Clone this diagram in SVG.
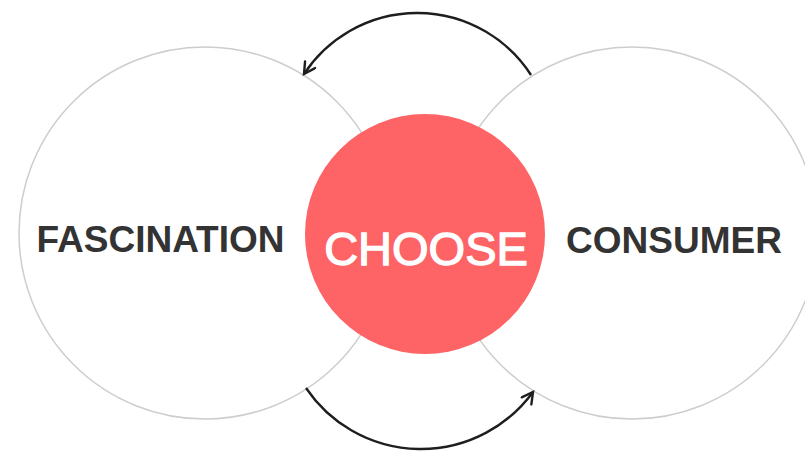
<svg xmlns="http://www.w3.org/2000/svg" width="805" height="451" viewBox="0 0 805 451">
  <style>
    .ring { fill: #ffffff; stroke: #cdcdcd; stroke-width: 1.5; }
    .core { fill: #fe6366; stroke: none; }
    .label { font-family: "Liberation Sans", Arial, Helvetica, sans-serif; font-weight: 700; font-size: 37px; fill: #333333; text-anchor: middle; }
    .center-label { font-family: "Liberation Sans", Arial, Helvetica, sans-serif; font-weight: 400; font-size: 47px; fill: #ffffff; stroke: #ffffff; stroke-width: 1.3; text-anchor: middle; }
    .conn { fill: none; stroke: #1e1e1e; stroke-width: 2.4; marker-end: url(#arrow); }
  </style>
  <defs>
    <marker id="arrow" markerWidth="16" markerHeight="16" refX="13" refY="7" orient="auto" markerUnits="userSpaceOnUse">
      <path d="M2,1 L13,7 L2,13" fill="none" stroke="#1e1e1e" stroke-width="2.4" stroke-linecap="round" stroke-linejoin="miter"/>
    </marker>
  </defs>
  <rect width="805" height="451" fill="#ffffff"/>
  <g id="fascination">
    <circle class="ring" cx="205" cy="233" r="186"/>
    <text class="label" x="160.5" y="252">FASCINATION</text>
  </g>
  <g id="consumer">
    <circle class="ring" cx="632" cy="233" r="186"/>
    <text class="label" x="674" y="253">CONSUMER</text>
  </g>
  <g id="choose">
    <circle class="core" cx="425" cy="234" r="120"/>
    <text class="center-label" x="426" y="265">CHOOSE</text>
  </g>
  <g id="connectors">
    <path class="conn" d="M531,75 A135.5,135.5 0 0 0 304,74"/>
    <path class="conn" d="M306,388 A138.7,138.7 0 0 0 533,392"/>
  </g>
</svg>
